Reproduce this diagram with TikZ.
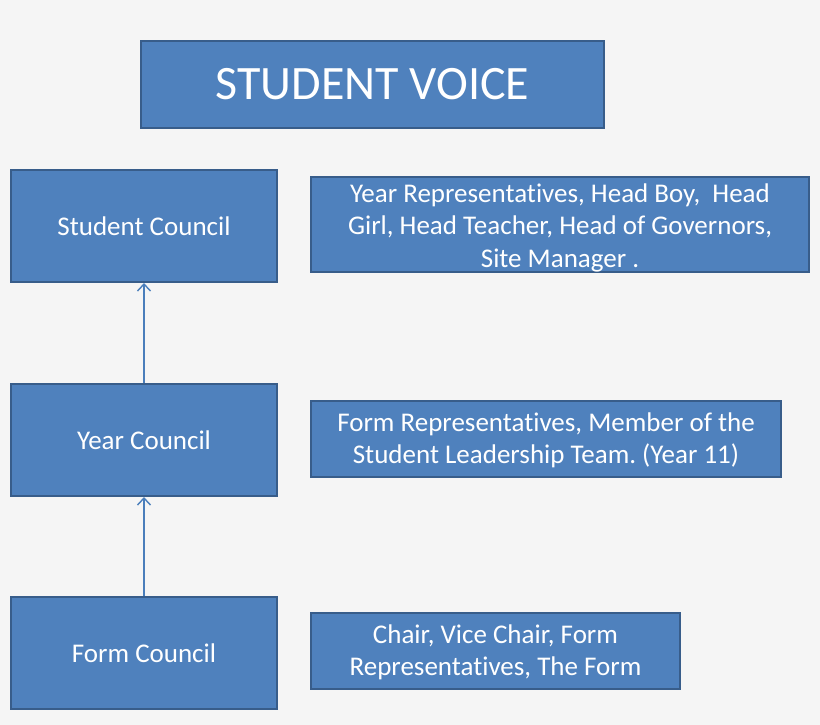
\documentclass[tikz,border=0pt]{standalone}
\usepackage{fontspec}
\setmainfont{Carlito}[Ligatures=NoCommon]
\usetikzlibrary{arrows.meta}
\frenchspacing
\definecolor{boxfill}{HTML}{4F81BD}
\definecolor{boxline}{HTML}{385D8A}
\definecolor{arrowline}{HTML}{4A7EBB}
\definecolor{paper}{HTML}{F5F5F5}
\providecommand{\boxfontsize}{\fontsize{27pt}{32.5pt}\selectfont}
\providecommand{\titlefontsize}{\fontsize{48pt}{54pt}\selectfont}
\tikzset{
  bluebox/.style={draw=boxline,fill=boxfill,line width=2pt,text=white,inner sep=0pt,align=center,font=\boxfontsize},
  uparrow/.style={draw=arrowline,line width=1.4pt,-{Straight Barb[length=7pt,width=13pt]}}
}

\begin{document}
\begin{tikzpicture}[x=1pt,y=-1pt]
    \pgfmathsetmacro{\leftx}{144}
    \pgfmathsetmacro{\leftwidth}{266}
    \pgfmathsetmacro{\leftheight}{112}
    \fill[paper] (0,0) rectangle (820,725);
    \useasboundingbox (0,0) rectangle (820,725);
    % title
    \node[bluebox,minimum width=463,minimum height=86,font=\titlefontsize](voice) at (372.5,84.5){STUDENT VOICE};
    % left column
    \node[bluebox,minimum width=\leftwidth,minimum height=\leftheight](student) at (\leftx,226){Student Council};
    \node[bluebox,minimum width=\leftwidth,minimum height=\leftheight](year) at (\leftx,440){Year Council};
    \node[bluebox,minimum width=\leftwidth,minimum height=\leftheight](form) at (\leftx,653){Form Council};
    % right column (text height/depth put the lines where they sit)
    \node[bluebox,minimum width=498,minimum height=95,text height=90pt,text depth=5pt](studentmembers) at (560,224.5)
    {Year Representatives, Head Boy,~ Head\\Girl, Head Teacher, Head of Governors,\\Site Manager .};
    \node[bluebox,minimum width=470,minimum height=76,text height=62.5pt,text depth=13.5pt](yearmembers) at (546,439)
    {Form Representatives, Member of the\\Student Leadership Team. (Year 11)};
    \node[bluebox,minimum width=369,minimum height=76,text height=62.5pt,text depth=13.5pt](formmembers) at (495.5,651)
    {Chair, Vice Chair, Form\\Representatives, The Form};
    \draw[uparrow] (year.north) -- (student.south);
    \draw[uparrow] (form.north) -- (year.south);
\end{tikzpicture}
\end{document}
